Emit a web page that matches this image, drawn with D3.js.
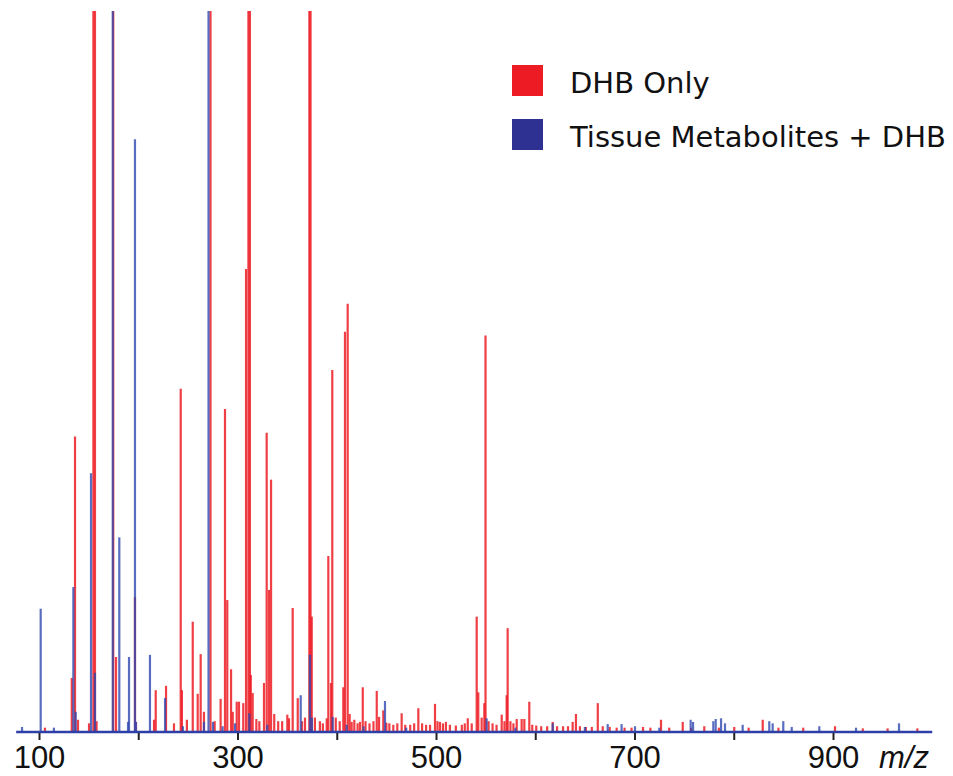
<!DOCTYPE html>
<html>
<head>
<meta charset="UTF-8">
<title>DHB spectrum</title>
<script src="https://d3js.org/d3.v7.min.js"></script>
<style>
  body {margin: 0; background: #fff;}
  svg {display: block;}
  .tick line {stroke: #222; stroke-width: 2;}
  .tick text {font-family: "Liberation Sans", Arial, sans-serif; font-size: 31px; fill: #111;}
  .legend text {font-family: "DejaVu Sans", sans-serif; font-size: 29px; fill: #111;}
</style>
</head>
<body>
<div id="chart"></div>
<script>
// peak lists (m/z, relative intensity, 100 = top of plot)
var redMz = [106, 133, 136.3, 139.3, 150.4, 154.8, 156.4, 158, 174.8, 177.6, 196.7, 197.7, 215.9, 217.6, 228, 236,
  242.8, 244, 249, 254.9, 259.9, 262.9, 266.2, 272.8, 277, 283, 287.4, 289.7, 293.5, 295.2, 299.2, 301.5, 305.8,
  308.6, 311, 312.5, 313.4, 315.3, 319, 322, 326.7, 329.4, 331.7, 333.8, 337, 341, 345, 350.2, 351.9, 355.6, 360.7,
  365, 368, 372.4, 373.6, 374.8, 378, 383, 386, 389.9, 391.5, 394.2, 395.5, 399, 403, 406.6, 408.3, 411, 413, 415,
  417.7, 421, 423.4, 426.2, 429, 433, 437, 440.3, 442.6, 446.9, 450, 453, 457, 461, 465.4, 469, 474, 478, 482.2, 486,
  490, 494, 499, 501.5, 504, 507, 510, 514, 520, 526, 529, 532, 536, 541, 542.6, 546, 548.7, 549.9, 553, 557, 561,
  566.2, 569, 571.2, 572.2, 575, 578, 581.3, 586.3, 589, 594, 597, 601, 606, 612, 617.6, 622, 628, 633, 637.7, 641,
  645, 651, 657, 663, 668, 675, 682, 690, 697, 708.6, 716, 726.7, 735, 748.6, 757, 770.3, 785, 800.5, 815, 829.2,
  845, 870, 902, 930, 955, 985];
var redInt = [0.6, 7.5, 41, 1.7, 1.2, 115, 115, 1.5, 115, 10.4, 18.7, 1.4, 1.7, 5.8, 6.4, 1.2,
  47.6, 5.8, 1.7, 15.3, 5.3, 10.8, 2.8, 115, 1.5, 4.6, 44.8, 18.3, 8.7, 2.8, 4.2, 4.2, 4,
  64.2, 115, 115, 7.9, 5.4, 1.8, 1.5, 6.8, 41.5, 19.7, 35, 2.5, 1.5, 1.5, 2.4, 1.9, 17.2, 4.7,
  1.5, 2, 115, 115, 16, 2, 1.5, 1.2, 1.9, 24.4, 6.8, 50.2, 2, 1.5, 6.2, 55.5, 59.4, 2.5, 1.4,
  1.7, 1.2, 1.4, 6.2, 1.5, 1.2, 1.5, 5.7, 2.1, 3, 1.3, 1.2, 1, 1.2, 2.6, 1, 1, 1.2, 3.3, 1.2,
  1, 1, 3.9, 1.5, 1.4, 1.2, 1.4, 1, 0.9, 1, 1.2, 1.9, 1.2, 16, 5.5, 2, 4, 55, 1.5, 1.2, 1,
  2.4, 1.5, 5.1, 14.4, 1.5, 1.2, 1.8, 1.8, 1.8, 4.2, 1, 0.9, 0.8, 0.8, 1.4, 0.8, 0.8, 0.8, 1.4, 2.5,
  0.8, 0.7, 0.7, 4, 0.8, 0.7, 0.6, 0.6, 0.6, 0.7, 0.6, 1.7, 0.6, 1.4, 0.6, 0.8, 0.6, 0.7, 0.6, 1.7,
  0.6, 0.6, 0.8, 0.5, 0.5, 0.5];

var blueMz = [82.9, 101.7, 115, 134.6, 137, 152.4, 156.4, 174.3, 180.9, 189.7, 190.7, 196.7, 197.7, 211.8, 227,
  245, 266.2, 270.8, 275.3, 285, 297.5, 311.9, 330, 363.7, 373, 375, 395.9, 410, 427, 448.6, 470, 551, 580, 617.6,
  650, 673, 687, 700.5, 725, 756.6, 759, 779.4, 781.8, 787.2, 791.2, 809, 835.8, 839.2, 849.9, 858.4, 886.2, 923.2,
  966.5];
var blueInt = [0.7, 17.1, 0.6, 20.1, 2.8, 35.9, 8.2, 115, 27, 1.4, 10.4, 82.2, 1.4, 10.7, 4.7,
  0.8, 1.4, 115, 1.4, 0.8, 1.2, 2.6, 1, 5.1, 10.7, 2, 2.1, 1, 0.8, 4.3, 0.6, 1.9, 0.6, 1.2,
  0.7, 1.1, 1.1, 0.8, 0.6, 1.7, 1.4, 1.5, 1.8, 1.9, 1.2, 1, 1.5, 1.2, 1.5, 0.7, 0.8, 0.6,
  1.2];

var tickValues = [100, 200, 300, 400, 500, 600, 700, 800, 900];
var tickLabels = ["100", "", "300", "", "500", "", "700", "", "900"];
var seriesNames = ["DHB Only", "Tissue Metabolites + DHB"];
var axisRange = [77, 1000];

var width = 953, height = 776;
var redColor = "#ed1c24", blueColor = "#2e3192";

var x = d3.scaleLinear().domain([100, 900]).range([39, 833]);
var y = d3.scaleLinear().domain([0, 100]).range([732, 11]);

var svg = d3.select("#chart").append("svg")
    .attr("width", width)
    .attr("height", height);

svg.append("clipPath").attr("id", "plotClip")
  .append("rect")
    .attr("x", 0).attr("y", y(100))
    .attr("width", width).attr("height", y(0) - y(100) + 2);

var plot = svg.append("g").attr("clip-path", "url(#plotClip)");

var red = redMz.map(function(d, i) { return {mz: d, v: redInt[i]}; });
var blue = blueMz.map(function(d, i) { return {mz: d, v: blueInt[i]}; });

// red spectrum under the blue one
plot.append("g").selectAll("line")
    .data(red)
    .enter().append("line")
    .attr("x1", function(d) { return x(d.mz); })
    .attr("x2", function(d) { return x(d.mz); })
    .attr("y1", y(0))
    .attr("y2", function(d) { return y(d.v); })
    .attr("stroke", redColor)
    .attr("stroke-opacity", 0.85)
    .attr("stroke-width", 2.2);

plot.append("g").selectAll("line")
    .data(blue)
    .enter().append("line")
    .attr("x1", function(d) { return x(d.mz); })
    .attr("x2", function(d) { return x(d.mz); })
    .attr("y1", y(0))
    .attr("y2", function(d) { return y(d.v); })
    .attr("stroke", "#3048b0")
    .attr("stroke-opacity", 0.8)
    .attr("stroke-width", 2.2);

// baseline
svg.append("line")
    .attr("x1", x(axisRange[0])).attr("x2", x(axisRange[1]))
    .attr("y1", y(0)).attr("y2", y(0))
    .attr("stroke", "#2e40a8")
    .attr("stroke-width", 2.5);

var xAxis = d3.axisBottom(x)
    .tickValues(tickValues)
    .tickSize(8)
    .tickFormat(function(d, i) { return tickLabels[i]; });

var axisG = svg.append("g")
    .attr("transform", "translate(0," + y(0) + ")")
    .call(xAxis);
axisG.select(".domain").remove();
axisG.selectAll(".tick line").attr("y1", 1);
axisG.selectAll(".tick text").attr("y", 36).attr("dy", null);

svg.append("text")
    .attr("x", 904).attr("y", 768)
    .attr("text-anchor", "middle")
    .style("font-family", "'Liberation Sans', Arial, sans-serif")
    .style("font-style", "italic")
    .style("font-size", "31px")
    .style("fill", "#111")
    .text("m/z");

// legend
var legend = svg.append("g").attr("class", "legend")
    .attr("transform", "translate(512,65)");
var items = legend.selectAll("g")
    .data(seriesNames)
    .enter().append("g")
    .attr("transform", function(d, i) { return "translate(0," + (i * 54) + ")"; });
items.append("rect")
    .attr("width", 31).attr("height", 31)
    .attr("fill", function(d, i) { return i ? blueColor : redColor; });
items.append("text")
    .attr("x", 58).attr("y", 28)
    .text(function(d) { return d; });
</script>
</body>
</html>
